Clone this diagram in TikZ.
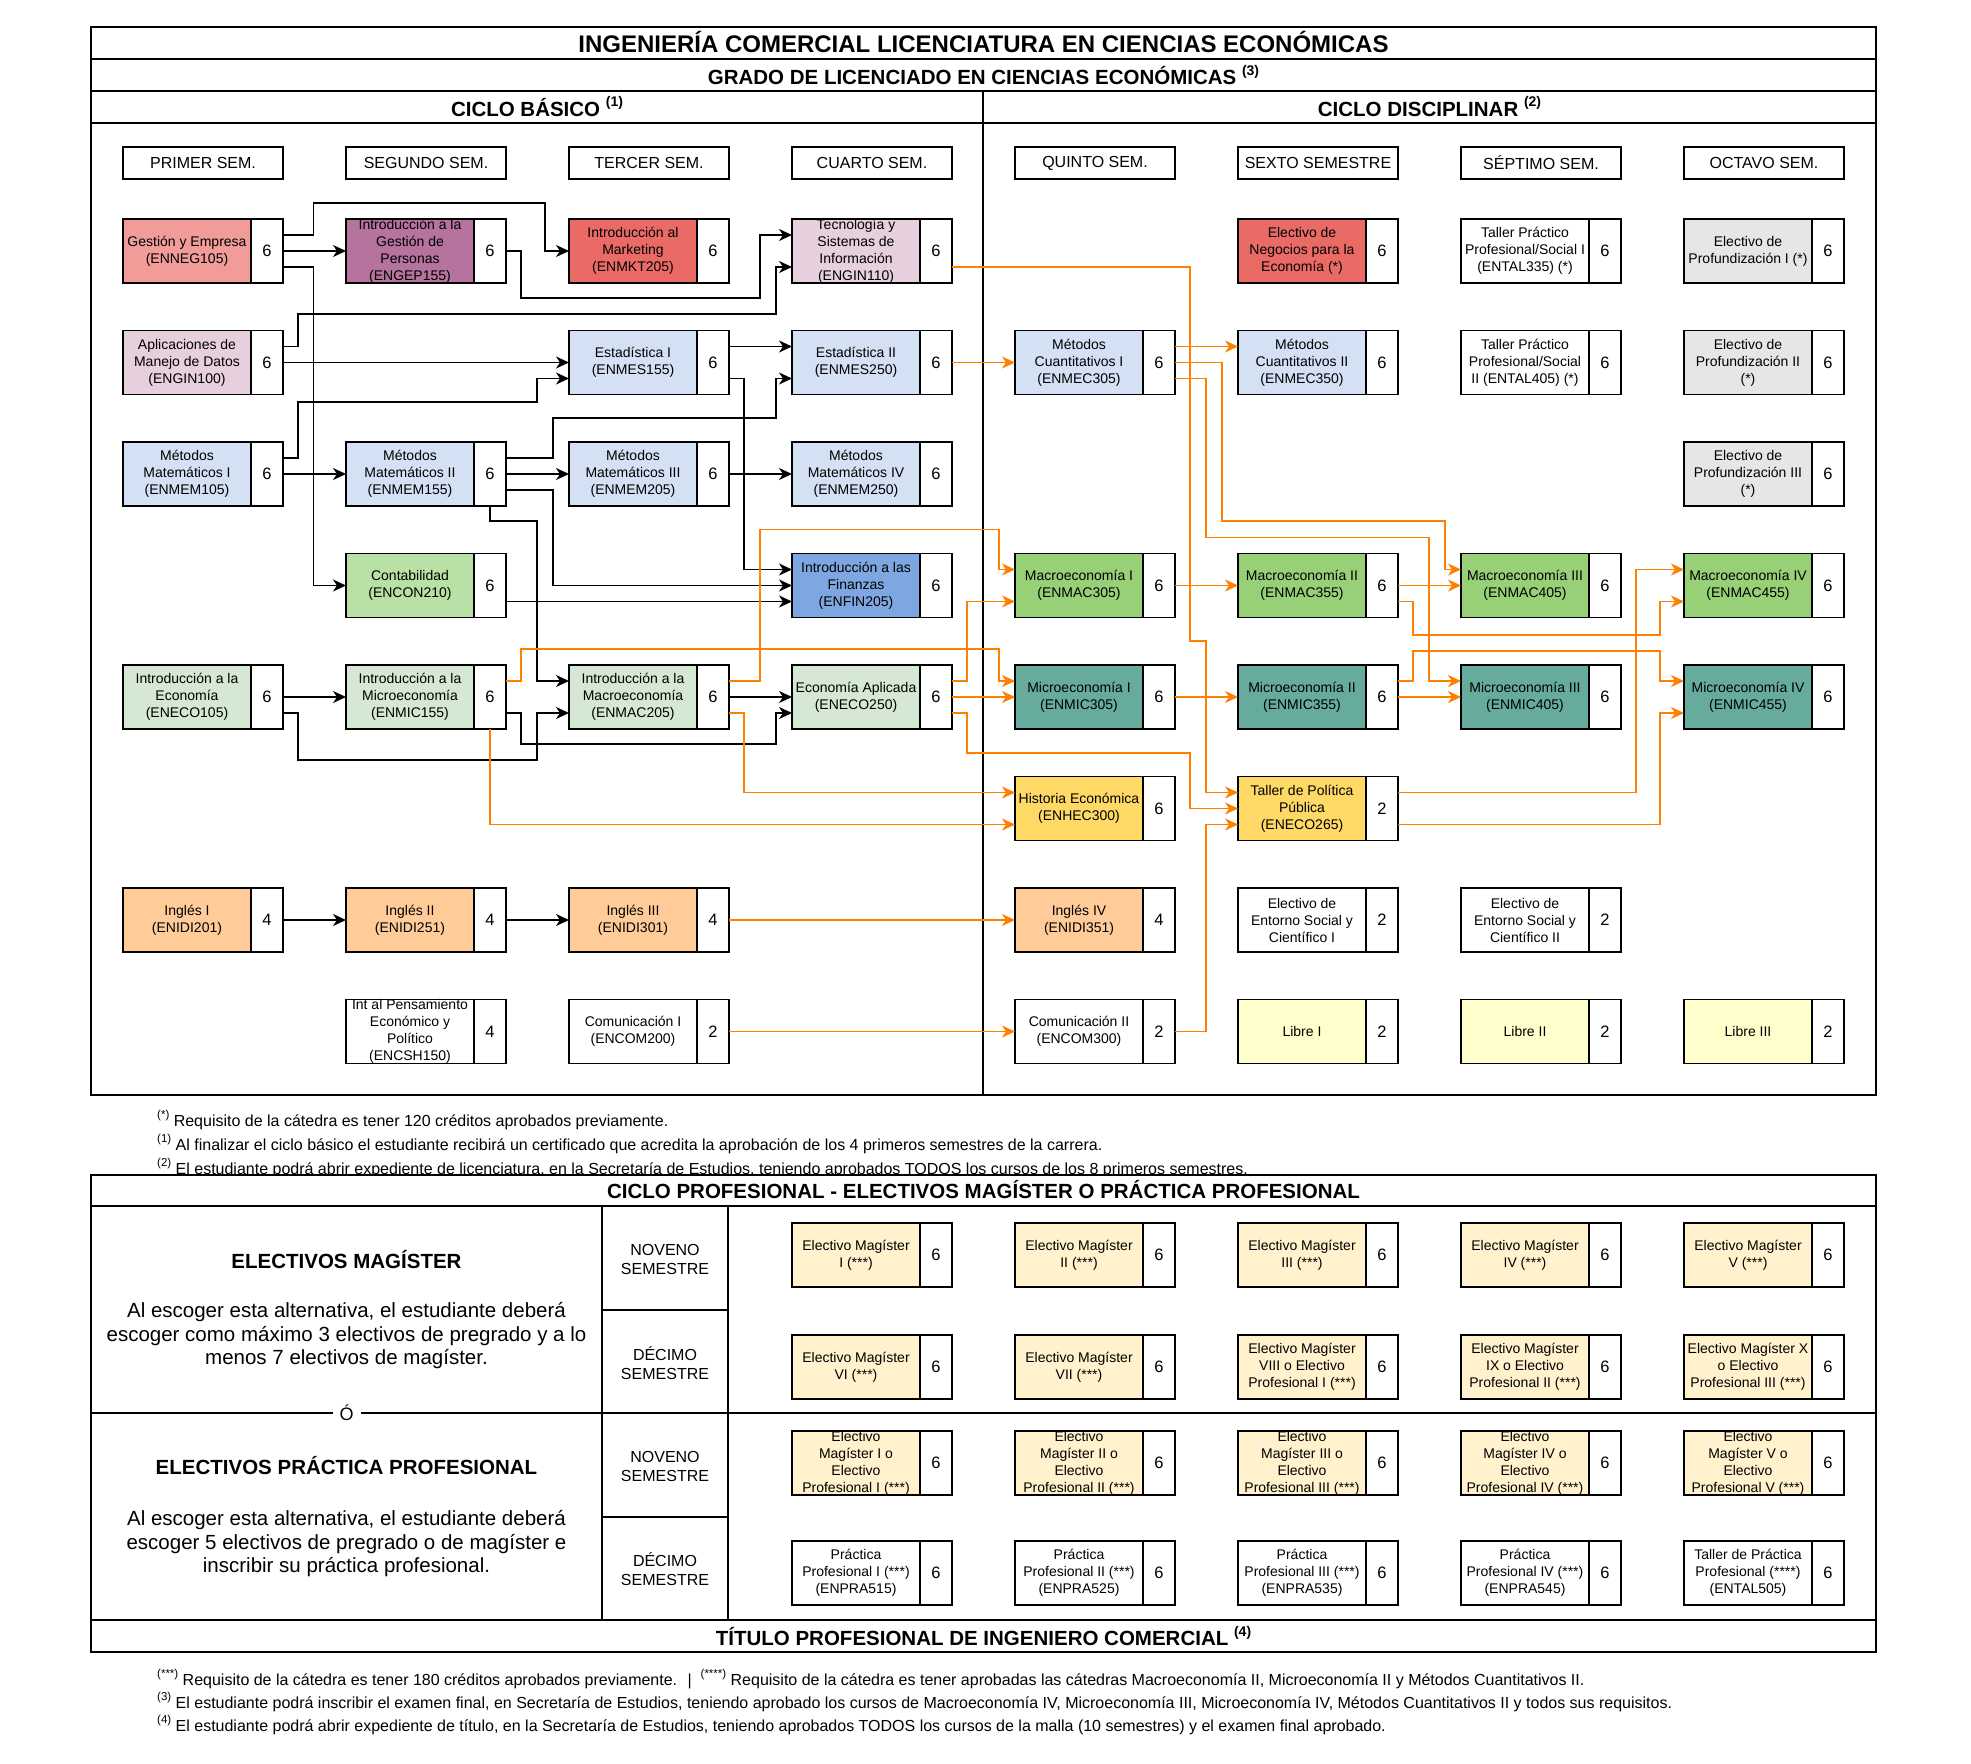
\documentclass[tikz,border=0pt]{standalone}
\usepackage{fontspec}
\setmainfont{Liberation Sans}
\usetikzlibrary{arrows.meta}
\definecolor{cGE}{HTML}{F19C99}
\definecolor{cGP}{HTML}{B5739D}
\definecolor{cMK}{HTML}{EA6B66}
\definecolor{cTI}{HTML}{E6D0DE}
\definecolor{cBL}{HTML}{D4E1F5}
\definecolor{cFI}{HTML}{7EA6E0}
\definecolor{cCO}{HTML}{B9E0A5}
\definecolor{cIE}{HTML}{D5E8D4}
\definecolor{cMA}{HTML}{97D077}
\definecolor{cMI}{HTML}{67AB9F}
\definecolor{cYE}{HTML}{FFD966}
\definecolor{cIN}{HTML}{FFCC99}
\definecolor{cPR}{HTML}{E6E6E6}
\definecolor{cLI}{HTML}{FFFFCC}
\definecolor{cEM}{HTML}{FFF2CC}
\definecolor{cOR}{HTML}{FF8000}
\newcommand{\supr}[1]{\raisebox{0.5em}{\fontsize{11.5}{12}\selectfont #1}}
\newcommand{\bsupr}[1]{\raisebox{0.45em}{\fontsize{14}{14}\selectfont\bfseries #1}}
\newcommand{\crs}[6]{%
  \node[nm,fill=#4] (#1) at ({#2+64},#3) {};
  \node[bt] at (#1.center) {#5};
  \node[num] (#1n) at ({#2+144},#3) {#6};
}
\tikzset{
  nm/.style={draw=black, line width=1.7pt, minimum width=128pt, minimum height=64pt, inner sep=0pt, outer sep=0pt},
  bt/.style={align=center, font=\fontsize{14}{17}\selectfont, inner sep=0pt},
  num/.style={draw=black, fill=white, line width=1.7pt, minimum width=32pt, minimum height=64pt, inner sep=0pt, outer sep=0pt, font=\fontsize{16.5}{18}\selectfont},
  semh/.style={draw=black, line width=1.7pt, minimum width=160pt, minimum height=32pt, inner sep=0pt, font=\fontsize{16}{18}\selectfont},
  frm/.style={draw=black, line width=1.7pt},
  blk/.style={draw=black, line width=1.7pt, -{Stealth[length=13pt,width=12pt,inset=4pt]}},
  org/.style={draw=cOR, line width=1.6pt, -{Stealth[length=13pt,width=12pt,inset=4pt]}},
  fn/.style={anchor=west, inner sep=0pt, font=\fontsize{16}{18}\selectfont},
  hd/.style={font=\fontsize{20.5}{24}\selectfont\bfseries, inner sep=0pt},
  cellt/.style={align=center, font=\fontsize{16}{19}\selectfont, inner sep=0pt},
  para/.style={align=center, font=\fontsize{20.5}{23.5}\selectfont, inner sep=0pt}
}
\begin{document}
\begin{tikzpicture}[x=1pt,y=-1pt]
\useasboundingbox (0,0) rectangle (1971,1764);
\fill[white] (0,0) rectangle (1971,1764);

% ---------- upper frame ----------
\draw[frm] (91,27) rectangle (1876,1095);
\draw[frm] (91,59) -- (1876,59);
\draw[frm] (91,91) -- (1876,91);
\draw[frm] (91,123) -- (1876,123);
\draw[frm] (983,91) -- (983,1095);
\node[font=\fontsize{24}{26}\selectfont\bfseries, inner sep=0pt] (t1) at (983.5,42) {INGENIERÍA COMERCIAL LICENCIATURA EN CIENCIAS ECONÓMICAS};
\node[hd] (t2) at (983.5,75) {GRADO DE LICENCIADO EN CIENCIAS ECONÓMICAS \bsupr{(3)}};
\node[hd] (t3) at (537,106.5) {CICLO BÁSICO \bsupr{(1)}};
\node[hd] (t4) at (1429.5,106.5) {CICLO DISCIPLINAR \bsupr{(2)}};

% semester headers
\node[semh] (h1) at (203,163) {PRIMER SEM.};
\node[semh] (h2) at (426,163) {SEGUNDO SEM.};
\node[semh] (h3) at (649,163) {TERCER SEM.};
\node[semh] (h4) at (872,163) {CUARTO SEM.};
\node[semh] (h5) at (1095,163) {QUINTO SEM.};
\node[semh] (h6) at (1318,163) {SEXTO SEMESTRE};
\node[semh] (h7) at (1541,163) {SÉPTIMO SEM.};
\node[semh] (h8) at (1764,163) {OCTAVO SEM.};

% row 1
\crs{neg}{123}{251}{cGE}{Gestión y Empresa\\(ENNEG105)}{6}
\crs{gep}{346}{251}{cGP}{Introducción a la\\Gestión de\\Personas\\(ENGEP155)}{6}
\crs{mkt}{569}{251}{cMK}{Introducción al\\Marketing\\(ENMKT205)}{6}
\crs{tec}{792}{251}{cTI}{Tecnología y\\Sistemas de\\Información\\(ENGIN110)}{6}
\crs{neco}{1238}{251}{cMK}{Electivo de\\Negocios para la\\Economía (*)}{6}
\crs{tpa}{1461}{251}{white}{Taller Práctico\\Profesional/Social I\\(ENTAL335) (*)}{6}
\crs{epa}{1684}{251}{cPR}{Electivo de\\Profundización I (*)}{6}
% row 2
\crs{adm}{123}{362.5}{cTI}{Aplicaciones de\\Manejo de Datos\\(ENGIN100)}{6}
\crs{esa}{569}{362.5}{cBL}{Estadística I\\(ENMES155)}{6}
\crs{esb}{792}{362.5}{cBL}{Estadística II\\(ENMES250)}{6}
\crs{mca}{1015}{362.5}{cBL}{Métodos\\Cuantitativos I\\(ENMEC305)}{6}
\crs{mcb}{1238}{362.5}{cBL}{Métodos\\Cuantitativos II\\(ENMEC350)}{6}
\crs{tpb}{1461}{362.5}{white}{Taller Práctico\\Profesional/Social\\II (ENTAL405) (*)}{6}
\crs{epb}{1684}{362.5}{cPR}{Electivo de\\Profundización II\\(*)}{6}
% row 3
\crs{mma}{123}{474}{cBL}{Métodos\\Matemáticos I\\(ENMEM105)}{6}
\crs{mmb}{346}{474}{cBL}{Métodos\\Matemáticos II\\(ENMEM155)}{6}
\crs{mmc}{569}{474}{cBL}{Métodos\\Matemáticos III\\(ENMEM205)}{6}
\crs{mmd}{792}{474}{cBL}{Métodos\\Matemáticos IV\\(ENMEM250)}{6}
\crs{epc}{1684}{474}{cPR}{Electivo de\\Profundización III\\(*)}{6}
% row 4
\crs{con}{346}{585.5}{cCO}{Contabilidad\\(ENCON210)}{6}
\crs{fin}{792}{585.5}{cFI}{Introducción a las\\Finanzas\\(ENFIN205)}{6}
\crs{maa}{1015}{585.5}{cMA}{Macroeconomía I\\(ENMAC305)}{6}
\crs{mab}{1238}{585.5}{cMA}{Macroeconomía II\\(ENMAC355)}{6}
\crs{mac}{1461}{585.5}{cMA}{Macroeconomía III\\(ENMAC405)}{6}
\crs{mad}{1684}{585.5}{cMA}{Macroeconomía IV\\(ENMAC455)}{6}
% row 5
\crs{ieco}{123}{697}{cIE}{Introducción a la\\Economía\\(ENECO105)}{6}
\crs{imic}{346}{697}{cIE}{Introducción a la\\Microeconomía\\(ENMIC155)}{6}
\crs{imac}{569}{697}{cIE}{Introducción a la\\Macroeconomía\\(ENMAC205)}{6}
\crs{eap}{792}{697}{cIE}{Economía Aplicada\\(ENECO250)}{6}
\crs{mia}{1015}{697}{cMI}{Microeconomía I\\(ENMIC305)}{6}
\crs{mib}{1238}{697}{cMI}{Microeconomía II\\(ENMIC355)}{6}
\crs{mic}{1461}{697}{cMI}{Microeconomía III\\(ENMIC405)}{6}
\crs{mid}{1684}{697}{cMI}{Microeconomía IV\\(ENMIC455)}{6}
% row 6
\crs{hist}{1015}{808.5}{cYE}{Historia Económica\\(ENHEC300)}{6}
\crs{tpp}{1238}{808.5}{cYE}{Taller de Política\\Pública\\(ENECO265)}{2}
% row 7
\crs{ina}{123}{920}{cIN}{Inglés I\\(ENIDI201)}{4}
\crs{inb}{346}{920}{cIN}{Inglés II\\(ENIDI251)}{4}
\crs{inc}{569}{920}{cIN}{Inglés III\\(ENIDI301)}{4}
\crs{ind}{1015}{920}{cIN}{Inglés IV\\(ENIDI351)}{4}
\crs{enta}{1238}{920}{white}{Electivo de\\Entorno Social y\\Científico I}{2}
\crs{entb}{1461}{920}{white}{Electivo de\\Entorno Social y\\Científico II}{2}
% row 8
\crs{ipe}{346}{1031.5}{white}{Int al Pensamiento\\Económico y\\Político\\(ENCSH150)}{4}
\crs{coma}{569}{1031.5}{white}{Comunicación I\\(ENCOM200)}{2}
\crs{comb}{1015}{1031.5}{white}{Comunicación II\\(ENCOM300)}{2}
\crs{liba}{1238}{1031.5}{cLI}{Libre I}{2}
\crs{libb}{1461}{1031.5}{cLI}{Libre II}{2}
\crs{libc}{1684}{1031.5}{cLI}{Libre III}{2}

% ---------- black connectors ----------
\draw[blk] (negn.east) -- (gep.west);
\draw[blk] ([yshift=16pt]negn.east) -- (313.5,235) -- (313.5,202.7) -- (545,202.7) -- (545,251) -- (mkt.west);
\draw[blk] ([yshift=-16pt]negn.east) -- (313.5,267) -- (313.5,585.5) -- (con.west);
\draw[blk] (gepn.east) -- (521,251) -- (521,298.3) -- (760,298.3) -- (760,235) -- ([yshift=16pt]tec.west);
\draw[blk] ([yshift=16pt]admn.east) -- (298.3,346.5) -- (298.3,314.3) -- (776,314.3) -- (776,267) -- ([yshift=-16pt]tec.west);
\draw[blk] (admn.east) -- (esa.west);
\draw[blk] ([yshift=16pt]mman.east) -- (298.3,458) -- (298.3,401.7) -- (536.7,401.7) -- (536.7,378.5) -- ([yshift=-16pt]esa.west);
\draw[blk] (mman.east) -- (mmb.west);
\draw[blk] ([yshift=16pt]mmbn.east) -- (552.7,458) -- (552.7,417.7) -- (776,417.7) -- (776,378.5) -- ([yshift=-16pt]esb.west);
\draw[blk] (mmbn.east) -- (mmc.west);
\draw[blk] ([yshift=-16pt]mmbn.east) -- (552.7,490) -- (552.7,585.5) -- (fin.west);
\draw[blk] (mmbn.south) -- (490,521) -- (536.7,521) -- (536.7,681) -- ([yshift=16pt]imac.west);
\draw[blk] ([yshift=16pt]esan.east) -- ([yshift=16pt]esb.west);
\draw[blk] ([yshift=-16pt]esan.east) -- (744,378.5) -- (744,569.5) -- ([yshift=16pt]fin.west);
\draw[blk] (mmcn.east) -- (mmd.west);
\draw[blk] ([yshift=-16pt]conn.east) -- ([yshift=-16pt]fin.west);
\draw[blk] (iecon.east) -- (imic.west);
\draw[blk] ([yshift=-16pt]iecon.east) -- (298.3,713) -- (298.3,760) -- (536.7,760) -- (536.7,713) -- ([yshift=-16pt]imac.west);
\draw[blk] ([yshift=-16pt]imicn.east) -- (521,713) -- (521,744.3) -- (776,744.3) -- (776,713) -- ([yshift=-16pt]eap.west);
\draw[blk] (imacn.east) -- (eap.west);
\draw[blk] (inan.east) -- (inb.west);
\draw[blk] (inbn.east) -- (inc.west);

% ---------- orange connectors ----------
\draw[org] ([yshift=-16pt]tecn.east) -- (1190,267) -- (1190,641) -- (1206,641) -- (1206,792.5) -- ([yshift=16pt]tpp.west);
\draw[org] (esbn.east) -- (mca.west);
\draw[org] ([yshift=16pt]mcan.east) -- ([yshift=16pt]mcb.west);
\draw[org] (mcan.east) -- (1222,362.5) -- (1222,521) -- (1445,521) -- (1445,569.5) -- ([yshift=16pt]mac.west);
\draw[org] ([yshift=-16pt]mcan.east) -- (1206,378.5) -- (1206,537.3) -- (1429,537.3) -- (1429,681) -- ([yshift=16pt]mic.west);
\draw[org] ([yshift=16pt]imicn.east) -- (521,681) -- (521,648.7) -- (999,648.7) -- (999,681) -- ([yshift=16pt]mia.west);
\draw[org] (imicn.south) -- (490,824.5) -- ([yshift=-16pt]hist.west);
\draw[org] ([yshift=16pt]imacn.east) -- (760,681) -- (760,529.3) -- (999,529.3) -- (999,569.5) -- ([yshift=16pt]maa.west);
\draw[org] ([yshift=-16pt]imacn.east) -- (744,713) -- (744,792.5) -- ([yshift=16pt]hist.west);
\draw[org] ([yshift=16pt]eapn.east) -- (967,681) -- (967,601.5) -- ([yshift=-16pt]maa.west);
\draw[org] (eapn.east) -- (mia.west);
\draw[org] ([yshift=-16pt]eapn.east) -- (967,713) -- (967,752.7) -- (1190,752.7) -- (1190,808.5) -- (tpp.west);
\draw[org] (maan.east) -- (mab.west);
\draw[org] (mian.east) -- (mib.west);
\draw[org] (mabn.east) -- (mac.west);
\draw[org] (mibn.east) -- (mic.west);
\draw[org] ([yshift=-16pt]mabn.east) -- (1413,601.5) -- (1413,635) -- (1660,635) -- (1660,601.5) -- ([yshift=-16pt]mad.west);
\draw[org] ([yshift=16pt]mibn.east) -- (1413,681) -- (1413,650.7) -- (1660,650.7) -- (1660,681) -- ([yshift=16pt]mid.west);
\draw[org] ([yshift=16pt]tppn.east) -- (1636,792.5) -- (1636,569.5) -- ([yshift=16pt]mad.west);
\draw[org] ([yshift=-16pt]tppn.east) -- (1660,824.5) -- (1660,713) -- ([yshift=-16pt]mid.west);
\draw[org] (incn.east) -- (ind.west);
\draw[org] (coman.east) -- (comb.west);
\draw[org] (combn.east) -- (1206,1031.5) -- (1206,824.5) -- ([yshift=-16pt]tpp.west);

% ---------- upper footnotes ----------
\node[fn] (f1) at (157,1120) {\supr{(*)} Requisito de la cátedra es tener 120 créditos aprobados previamente.};
\node[fn] (f2) at (157,1144) {\supr{(1)} Al finalizar el ciclo básico el estudiante recibirá un certificado que acredita la aprobación de los 4 primeros semestres de la carrera.};
\node[fn] (f3) at (157,1168) {\supr{(2)} El estudiante podrá abrir expediente de licenciatura, en la Secretaría de Estudios, teniendo aprobados TODOS los cursos de los 8 primeros semestres.};

% ---------- lower frame ----------
\draw[frm, fill=white] (91,1175) rectangle (1876,1652);
\draw[frm] (91,1206) -- (1876,1206);
\draw[frm] (91,1620) -- (1876,1620);
\draw[frm] (91,1413) -- (1876,1413);
\draw[frm] (602,1206) -- (602,1620);
\draw[frm] (728,1206) -- (728,1620);
\draw[frm] (602,1310) -- (728,1310);
\draw[frm] (602,1517) -- (728,1517);
\node[hd] (t5) at (983.5,1190) {CICLO PROFESIONAL - ELECTIVOS MAGÍSTER O PRÁCTICA PROFESIONAL};
\node[hd] (t6) at (983.5,1636) {TÍTULO PROFESIONAL DE INGENIERO COMERCIAL \bsupr{(4)}};
\node[fill=white, inner xsep=7pt, inner ysep=2pt, font=\fontsize{18}{20}\selectfont] (oo) at (346.5,1413) {Ó};
\node[hd] (em) at (346.5,1260) {ELECTIVOS MAGÍSTER};
\node[para] (emp) at (346.5,1336) {Al escoger esta alternativa, el estudiante deberá\\escoger como máximo 3 electivos de pregrado y a lo\\menos 7 electivos de magíster.};
\node[hd] (pp) at (346.5,1466) {ELECTIVOS PRÁCTICA PROFESIONAL};
\node[para] (ppp) at (346.5,1544) {Al escoger esta alternativa, el estudiante deberá\\escoger 5 electivos de pregrado o de magíster e\\inscribir su práctica profesional.};
\node[cellt] (s9a) at (665,1259) {NOVENO\\SEMESTRE};
\node[cellt] (s10a) at (665,1363) {DÉCIMO\\SEMESTRE};
\node[cellt] (s9b) at (665,1466) {NOVENO\\SEMESTRE};
\node[cellt] (s10b) at (665,1569) {DÉCIMO\\SEMESTRE};

\crs{ema}{792}{1255}{cEM}{Electivo Magíster\\I (***)}{6}
\crs{emb}{1015}{1255}{cEM}{Electivo Magíster\\II (***)}{6}
\crs{emc}{1238}{1255}{cEM}{Electivo Magíster\\III (***)}{6}
\crs{emd}{1461}{1255}{cEM}{Electivo Magíster\\IV (***)}{6}
\crs{eme}{1684}{1255}{cEM}{Electivo Magíster\\V (***)}{6}
\crs{emf}{792}{1367}{cEM}{Electivo Magíster\\VI (***)}{6}
\crs{emg}{1015}{1367}{cEM}{Electivo Magíster\\VII (***)}{6}
\crs{emh}{1238}{1367}{cEM}{Electivo Magíster\\VIII o Electivo\\Profesional I (***)}{6}
\crs{emi}{1461}{1367}{cEM}{Electivo Magíster\\IX o Electivo\\Profesional II (***)}{6}
\crs{emj}{1684}{1367}{cEM}{Electivo Magíster X\\o Electivo\\Profesional III (***)}{6}
\crs{eoa}{792}{1463}{cEM}{Electivo\\Magíster I o\\Electivo\\Profesional I (***)}{6}
\crs{eob}{1015}{1463}{cEM}{Electivo\\Magíster II o\\Electivo\\Profesional II (***)}{6}
\crs{eoc}{1238}{1463}{cEM}{Electivo\\Magíster III o\\Electivo\\Profesional III (***)}{6}
\crs{eod}{1461}{1463}{cEM}{Electivo\\Magíster IV o\\Electivo\\Profesional IV (***)}{6}
\crs{eoe}{1684}{1463}{cEM}{Electivo\\Magíster V o\\Electivo\\Profesional V (***)}{6}
\crs{pra}{792}{1573}{white}{Práctica\\Profesional I (***)\\(ENPRA515)}{6}
\crs{prb}{1015}{1573}{white}{Práctica\\Profesional II (***)\\(ENPRA525)}{6}
\crs{prc}{1238}{1573}{white}{Práctica\\Profesional III (***)\\(ENPRA535)}{6}
\crs{prd}{1461}{1573}{white}{Práctica\\Profesional IV (***)\\(ENPRA545)}{6}
\crs{pre}{1684}{1573}{white}{Taller de Práctica\\Profesional (****)\\(ENTAL505)}{6}

% ---------- lower footnotes ----------
\node[fn] (f4) at (157,1679) {\supr{(***)} Requisito de la cátedra es tener 180 créditos aprobados previamente. \ | \ \supr{(****)} Requisito de la cátedra es tener aprobadas las cátedras Macroeconomía II, Microeconomía II y Métodos Cuantitativos II.};
\node[fn] (f5) at (157,1702) {\supr{(3)} El estudiante podrá inscribir el examen final, en Secretaría de Estudios, teniendo aprobado los cursos de Macroeconomía IV, Microeconomía III, Microeconomía IV, Métodos Cuantitativos II y todos sus requisitos.};
\node[fn] (f6) at (157,1725) {\supr{(4)} El estudiante podrá abrir expediente de título, en la Secretaría de Estudios, teniendo aprobados TODOS los cursos de la malla (10 semestres) y el examen final aprobado.};
\end{tikzpicture}
\end{document}
